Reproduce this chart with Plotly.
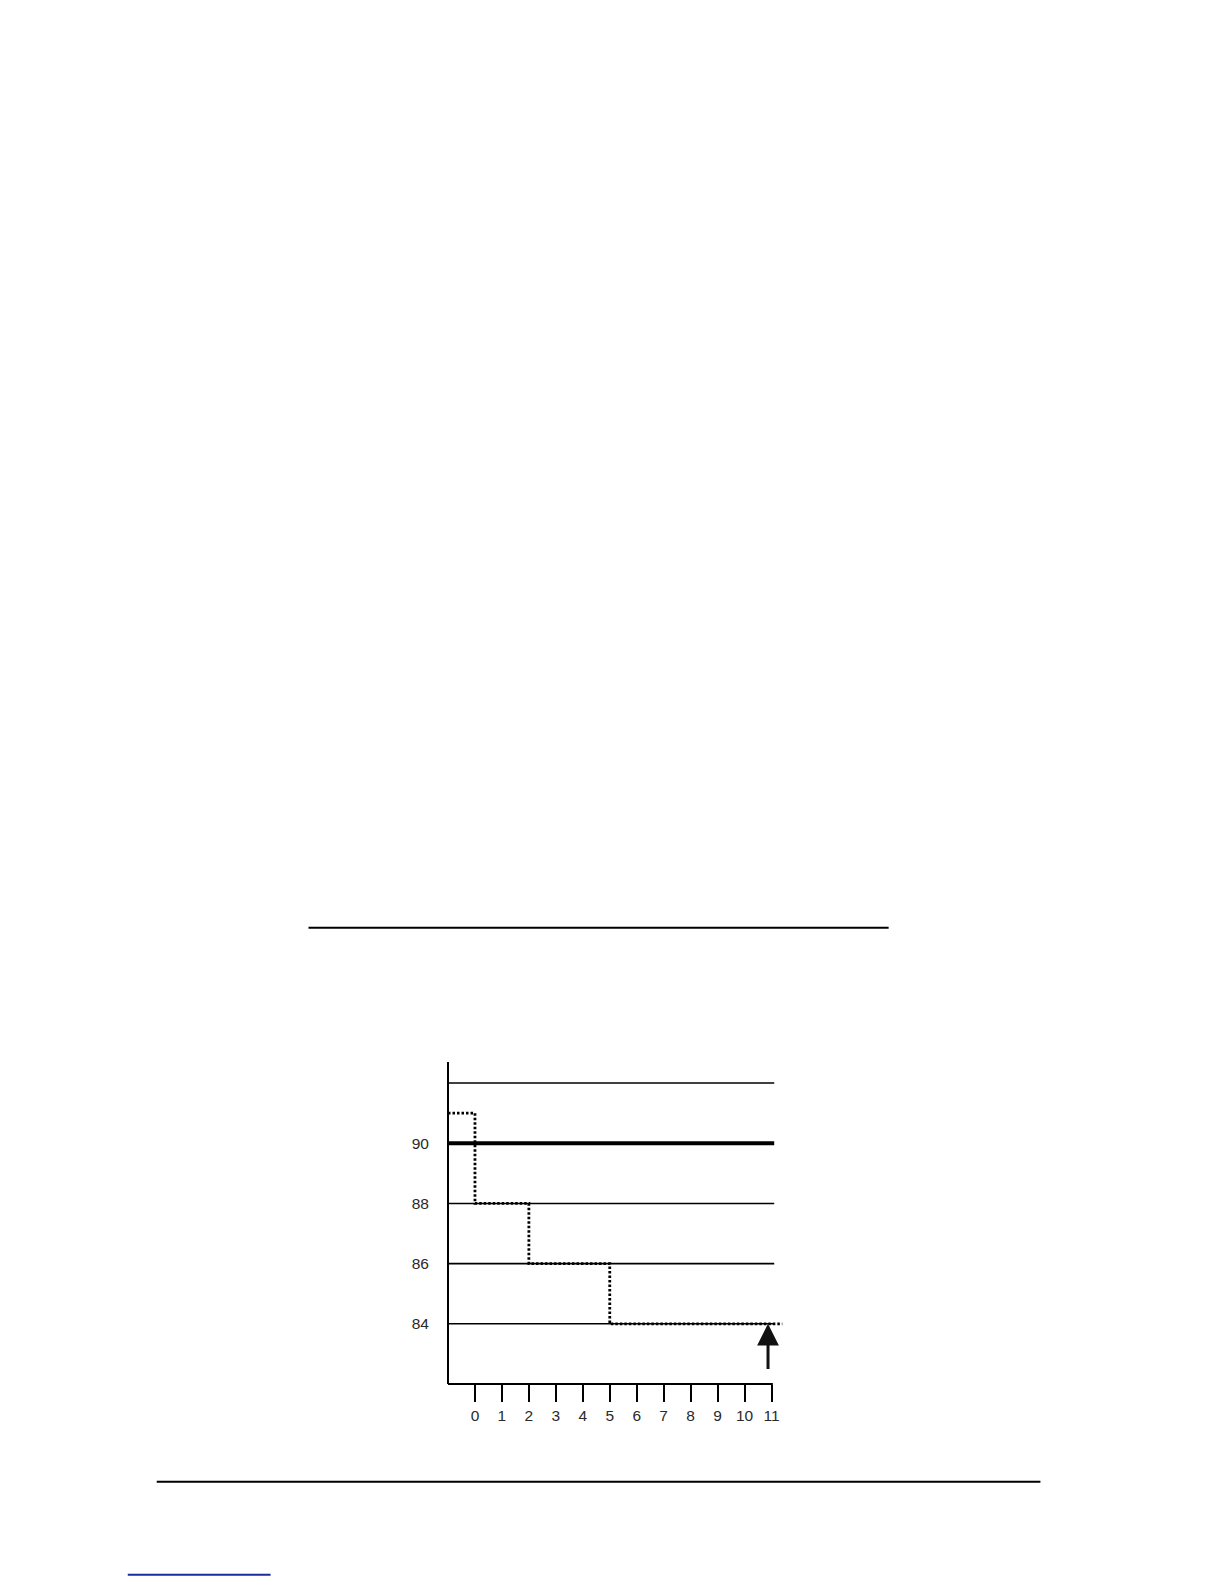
"""Step drop of a reading below a 90 threshold, with the page rules around it."""

import plotly.graph_objects as go

# data
step_x = [-1, 0, 2, 5, 11.4]
step_y = [91, 88, 86, 84, 84]
grid_levels = [84, 86, 88, 92]
threshold = 90
y_tick_vals = [84, 86, 88, 90]
x_tick_vals = list(range(0, 12))
x_tick_text = [str(v) for v in x_tick_vals]
arrow_x = 10.87
arrow_tip = 84
arrow_tail = 82.45

# page geometry (pixels)
PAGE_W, PAGE_H = 1224, 1584
PX_PER_X, PX_PER_Y = 27.0, 30.1
X_RANGE = [-1, 11.5]
Y_RANGE = [82, 92.7]
LEFT = 447.7
BOTTOM = 1384.3
plot_w = (X_RANGE[1] - X_RANGE[0]) * PX_PER_X
plot_h = (Y_RANGE[1] - Y_RANGE[0]) * PX_PER_Y
TOP = BOTTOM - plot_h


def px(x):
    return (x - LEFT) / plot_w


def py(y):
    return (BOTTOM - y) / plot_h


fig = go.Figure()
fig.add_trace(
    go.Scatter(
        x=step_x,
        y=step_y,
        mode="lines",
        line=dict(shape="hv", color="black", width=2.8, dash="2.5px,2px"),
        hoverinfo="skip",
        showlegend=False,
    )
)

shapes = []
for lv in grid_levels:
    shapes.append(dict(type="line", xref="x", yref="y", x0=-1, x1=11.1, y0=lv, y1=lv,
                       line=dict(color="black", width=1.6)))
shapes.append(dict(type="line", xref="x", yref="y", x0=-1, x1=11.1, y0=threshold, y1=threshold,
                   line=dict(color="black", width=4)))
# axis lines
shapes.append(dict(type="line", xref="x", yref="y domain", x0=-1, x1=11.05, y0=0, y1=0,
                   line=dict(color="black", width=2)))
shapes.append(dict(type="line", xref="x domain", yref="y", x0=0, x1=0, y0=82, y1=92.7,
                   line=dict(color="black", width=2)))
# page rules
shapes.append(dict(type="line", xref="paper", yref="paper", x0=px(308), x1=px(889),
                   y0=py(928), y1=py(928), line=dict(color="black", width=2)))
shapes.append(dict(type="line", xref="paper", yref="paper", x0=px(156), x1=px(1041),
                   y0=py(1482), y1=py(1482), line=dict(color="black", width=2)))
shapes.append(dict(type="line", xref="paper", yref="paper", x0=px(127), x1=px(270),
                   y0=py(1575), y1=py(1575), line=dict(color="#1c2a9c", width=2)))

fig.update_layout(
    width=PAGE_W,
    height=PAGE_H,
    autosize=False,
    margin=dict(l=LEFT, r=PAGE_W - LEFT - plot_w, t=TOP, b=PAGE_H - BOTTOM, pad=0),
    paper_bgcolor="white",
    plot_bgcolor="white",
    font=dict(family="Liberation Sans, Arial, sans-serif", size=15.5, color="#2a2a2a"),
    shapes=shapes,
    annotations=[
        dict(x=arrow_x, y=arrow_tip, ax=arrow_x, ay=arrow_tail, xref="x", yref="y",
             axref="x", ayref="y", showarrow=True, arrowhead=2, arrowsize=1.45,
             arrowwidth=3, arrowcolor="#111111", text="")
    ],
    xaxis=dict(
        range=X_RANGE,
        tickvals=x_tick_vals,
        ticktext=x_tick_text,
        ticks="outside",
        ticklen=17,
        tickwidth=2,
        tickcolor="black",
        showgrid=False,
        zeroline=False,
        showline=False,
        fixedrange=True,
    ),
    yaxis=dict(
        range=Y_RANGE,
        tickvals=y_tick_vals,
        ticks="",
        ticklabelstandoff=18,
        showgrid=False,
        zeroline=False,
        showline=False,
        fixedrange=True,
    ),
)

fig.write_html("out.html", config={"displayModeBar": False},
               post_script="document.body.style.margin='0';")
